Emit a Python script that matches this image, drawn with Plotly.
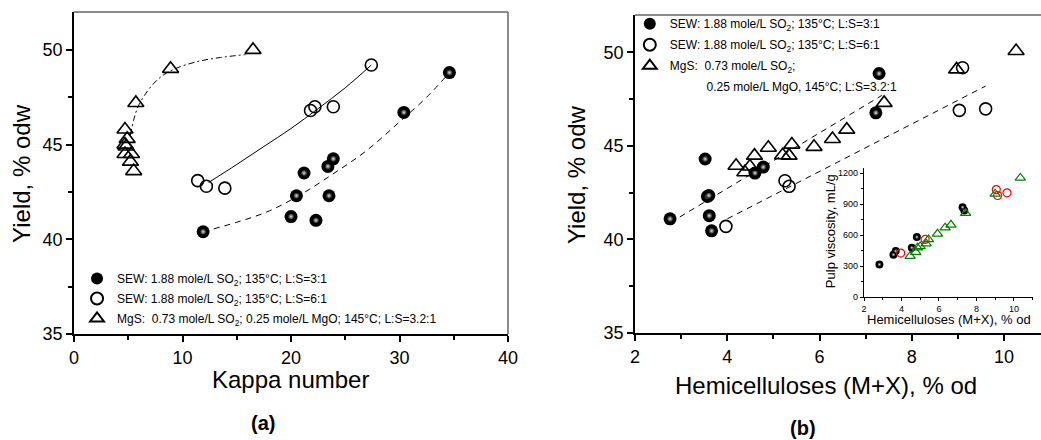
import plotly.graph_objects as go

# (a) yield vs kappa number
kappa_sew3 = [11.9, 20.0, 20.5, 21.2, 22.3, 23.4, 23.5, 23.9, 30.4, 34.6]
yield_a_sew3 = [40.4, 41.2, 42.3, 43.5, 41.0, 43.85, 42.3, 44.25, 46.7, 48.8]
kappa_sew6 = [11.4, 12.2, 13.9, 21.8, 22.2, 23.9, 27.4]
yield_a_sew6 = [43.1, 42.8, 42.7, 46.8, 47.0, 47.0, 49.2]
kappa_mgs = [4.7, 4.9, 4.7, 4.8, 4.7, 5.3, 5.2, 5.5, 5.7, 8.9, 16.5]
yield_a_mgs = [45.8, 45.3, 45.0, 44.9, 44.5, 44.5, 44.1, 43.6, 47.2, 49.0, 50.0]

# fitted curves
fit_sew3_x = [11.9, 15, 18, 21, 24, 27, 30, 32.5, 34.6]
fit_sew3_y = [40.4, 40.9, 41.5, 42.4, 43.5, 44.7, 46.2, 47.5, 48.8]
fit_sew6_x = [12.4, 15, 17.5, 20, 22.5, 25, 27.4]
fit_sew6_y = [43.0, 43.95, 44.9, 45.85, 46.9, 48.0, 49.2]
fit_mgs_x = [5.2, 5.5, 5.9, 6.5, 7.3, 8.3, 9.5, 11.5, 13.5, 15.8]
fit_mgs_y = [45.5, 46.3, 47.0, 47.6, 48.2, 48.7, 49.05, 49.4, 49.6, 49.75]

# (b) yield vs hemicelluloses
hemi_sew3 = [2.76, 3.52, 3.57, 3.6, 3.61, 3.66, 4.6, 4.78, 7.22, 7.29]
yield_b_sew3 = [41.1, 44.3, 42.3, 42.35, 41.27, 40.46, 43.55, 43.87, 46.77, 48.87]
hemi_sew6 = [3.97, 5.25, 5.34, 9.03, 9.1, 9.6]
yield_b_sew6 = [40.7, 43.14, 42.84, 46.9, 49.18, 46.98]
hemi_mgs = [4.19, 4.38, 4.49, 4.59, 4.89, 5.2, 5.34, 5.4, 5.88, 6.28, 6.59, 7.4, 8.97, 10.26]
yield_b_mgs = [43.94, 43.59, 43.9, 44.48, 44.9, 44.5, 44.48, 45.07, 44.95, 45.37, 45.87, 47.3, 49.09, 50.07]

trend_upper_x = [2.97, 7.35]
trend_upper_y = [41.2, 47.7]
trend_lower_x = [4.0, 9.6]
trend_lower_y = [41.1, 48.2]

# inset: pulp viscosity vs hemicelluloses
inset_sew3_hemi = [2.82, 3.57, 3.69, 4.55, 4.82, 7.26, 7.35]
inset_sew3_visc = [316, 410, 445, 478, 581, 871, 839]
inset_sew6_hemi = [3.96, 5.26, 9.06, 9.13, 9.63]
inset_sew6_visc = [426, 558, 1042, 984, 1010]
inset_mgs_hemi = [4.46, 4.76, 4.85, 5.0, 5.32, 5.44, 5.92, 6.33, 6.64, 7.42, 9.0, 10.34]
inset_mgs_visc = [397, 436, 478, 491, 517, 558, 613, 672, 700, 813, 1000, 1155]

name_sew3 = "SEW: 1.88 mole/L SO<sub>2</sub>; 135°C; L:S=3:1"
name_sew6 = "SEW: 1.88 mole/L SO<sub>2</sub>; 135°C; L:S=6:1"
name_mgs_a = "MgS:\u00a0 0.73 mole/L SO<sub>2</sub>; 0.25 mole/L MgO; 145°C; L:S=3.2:1"
name_mgs_b = "MgS:\u00a0 0.73 mole/L SO<sub>2</sub>;"
name_mgs_b2 = "\u00a0" * 11 + "0.25 mole/L MgO, 145°C; L:S=3.2:1"

FONT = "Arial, Liberation Sans, sans-serif"

fig = go.Figure()


def add_spheres(x, y, xa, ya, size, name=None, legend=None, group=None):
    fig.add_trace(go.Scatter(
        x=x, y=y, xaxis=xa, yaxis=ya, mode="markers", name=name,
        showlegend=name is not None, legend=legend, legendgroup=group,
        marker=dict(symbol="circle", size=size, color="black",
                    line=dict(width=0)),
    ))
    # small highlight so the dots look like the shaded balls
    fig.add_trace(go.Scatter(
        x=x, y=y, xaxis=xa, yaxis=ya, mode="markers", showlegend=False,
        hoverinfo="skip",
        marker=dict(symbol="circle", size=size * 0.5, color="black",
                    gradient=dict(type="radial", color="#e0e0e0"),
                    line=dict(width=0)),
    ))


def add_line(x, y, xa, ya, dash):
    fig.add_trace(go.Scatter(
        x=x, y=y, xaxis=xa, yaxis=ya, mode="lines", showlegend=False,
        line=dict(color="black", width=1, dash=dash, shape="spline"),
    ))


# ---- panel (a)
add_line(fit_sew3_x, fit_sew3_y, "x", "y", "6px,5px")
add_line(fit_sew6_x, fit_sew6_y, "x", "y", "solid")
add_line(fit_mgs_x, fit_mgs_y, "x", "y", "6px,3px,2px,3px")
add_spheres(kappa_sew3, yield_a_sew3, "x", "y", 13, name_sew3, "legend", "a1")
fig.add_trace(go.Scatter(
    x=kappa_sew6, y=yield_a_sew6, xaxis="x", yaxis="y", mode="markers",
    name=name_sew6, legend="legend", legendgroup="a2",
    marker=dict(symbol="circle-open", size=12, color="black", line=dict(width=1.6)),
))
fig.add_trace(go.Scatter(
    x=kappa_mgs, y=yield_a_mgs, xaxis="x", yaxis="y", mode="markers",
    name=name_mgs_a, legend="legend", legendgroup="a3",
    marker=dict(symbol="triangle-up-open", size=14, color="black", line=dict(width=1.6)),
))

# ---- panel (b)
add_line(trend_upper_x, trend_upper_y, "x2", "y2", "6px,5px")
add_line(trend_lower_x, trend_lower_y, "x2", "y2", "6px,5px")
add_spheres(hemi_sew3, yield_b_sew3, "x2", "y2", 13, name_sew3, "legend2", "b1")
fig.add_trace(go.Scatter(
    x=hemi_sew6, y=yield_b_sew6, xaxis="x2", yaxis="y2", mode="markers",
    name=name_sew6, legend="legend2", legendgroup="b2",
    marker=dict(symbol="circle-open", size=12, color="black", line=dict(width=1.6)),
))
fig.add_trace(go.Scatter(
    x=hemi_mgs, y=yield_b_mgs, xaxis="x2", yaxis="y2", mode="markers",
    name=name_mgs_b, legend="legend2", legendgroup="b3",
    marker=dict(symbol="triangle-up-open", size=14, color="black", line=dict(width=1.6)),
))
# second line of the MgS legend text
fig.add_trace(go.Scatter(
    x=[None], y=[None], xaxis="x2", yaxis="y2", mode="markers",
    name=name_mgs_b2, legend="legend2", legendgroup="b4",
    marker=dict(size=1, color="rgba(0,0,0,0)", line=dict(width=0)),
))

# ---- inset
add_spheres(inset_sew3_hemi, inset_sew3_visc, "x3", "y3", 8)
fig.add_trace(go.Scatter(
    x=inset_sew6_hemi, y=inset_sew6_visc, xaxis="x3", yaxis="y3", mode="markers",
    showlegend=False,
    marker=dict(symbol="circle-open", size=8, color="red", line=dict(width=1.2)),
))
fig.add_trace(go.Scatter(
    x=inset_mgs_hemi, y=inset_mgs_visc, xaxis="x3", yaxis="y3", mode="markers",
    showlegend=False,
    marker=dict(symbol="triangle-up-open", size=9, color="green", line=dict(width=1.2)),
))


def main_axis(rng, dtick, minor, domain, anchor):
    return dict(
        domain=domain, range=rng, dtick=dtick, anchor=anchor, automargin=False,
        ticks="outside", ticklen=6, tickwidth=1.5, tickcolor="black",
        minor=dict(ticks="outside", ticklen=4, tickwidth=1.5, dtick=minor, tickcolor="black"),
        showline=True, linewidth=2, linecolor="black",
        showgrid=False, zeroline=False,
        tickfont=dict(size=18, color="black", family=FONT),
    )


def inset_axis(rng, dtick, minor, domain, anchor):
    return dict(
        domain=domain, range=rng, dtick=dtick, anchor=anchor, automargin=False,
        ticks="outside", ticklen=3, tickwidth=1, tickcolor="black",
        minor=dict(ticks="outside", ticklen=2, tickwidth=1, dtick=minor, tickcolor="black"),
        showline=True, linewidth=1.3, linecolor="black",
        showgrid=False, zeroline=False,
        tickfont=dict(size=9, color="black", family=FONT),
    )


legend_common = dict(
    font=dict(size=12, color="black", family=FONT),
    bgcolor="rgba(0,0,0,0)", borderwidth=0,
    xanchor="left", yanchor="top", itemsizing="constant",
    xref="container", yref="container",
)

fig.update_layout(
    width=1041, height=440,
    margin=dict(l=0, r=0, t=0, b=0, autoexpand=False),
    paper_bgcolor="white", plot_bgcolor="white",
    font=dict(family=FONT, color="black"),
    xaxis=main_axis([0, 40], 10, 5, [0.0711, 0.488], "y"),
    yaxis=main_axis([35, 52], 5, 2.5, [0.2409, 0.9727], "x"),
    xaxis2=main_axis([2, 10.8], 2, 1, [0.610, 1.0], "y2"),
    yaxis2=main_axis([35, 52], 5, 2.5, [0.2432, 0.966], "x2"),
    xaxis3=inset_axis([2, 11], 2, 1, [0.830, 0.992], "y3"),
    yaxis3=inset_axis([0, 1250], 300, 150, [0.325, 0.618], "x3"),
    legend=dict(x=0.074, y=0.400, tracegroupgap=1, **legend_common),
    legend2=dict(x=0.605, y=0.979, tracegroupgap=2, **legend_common),
    showlegend=True,
)

# thin grey frame on top/right of the main panels
frame = dict(type="line", line=dict(color="#666666", width=1.5), layer="below")
fig.add_shape(xref="x domain", yref="y domain", x0=0, x1=1, y0=1, y1=1, **frame)
fig.add_shape(xref="x domain", yref="y domain", x0=1, x1=1, y0=0, y1=1, **frame)
fig.add_shape(xref="x2 domain", yref="y2 domain", x0=0, x1=1, y0=1, y1=1, **frame)

annotations = [
    ("Yield, % odw", 0.0211, 0.607, 24, -90, False),
    ("Kappa number", 0.279, 0.1365, 24, 0, False),
    ("(a)", 0.2524, 0.0386, 20, 0, True),
    ("Yield, % odw", 0.5533, 0.6045, 24, -90, False),
    ("Hemicelluloses (M+X), % od", 0.7935, 0.125, 24, 0, False),
    ("(b)", 0.7717, 0.027, 20, 0, True),
    ("Pulp viscosity, mL/g", 0.798, 0.474, 13, -90, False),
    ("Hemicelluloses (M+X), % od", 0.9115, 0.2735, 13, 0, False),
]
for text, x, y, size, angle, bold in annotations:
    fig.add_annotation(
        text=f"<b>{text}</b>" if bold else text,
        xref="paper", yref="paper", x=x, y=y, showarrow=False,
        xanchor="center", yanchor="middle", textangle=angle,
        font=dict(size=size, color="black", family=FONT),
    )

# drop the default page margin so the figure sits at the window's corner
fig.write_html(
    "out.html",
    config={"displayModeBar": False},
    post_script="document.body.style.margin = '0';",
)
